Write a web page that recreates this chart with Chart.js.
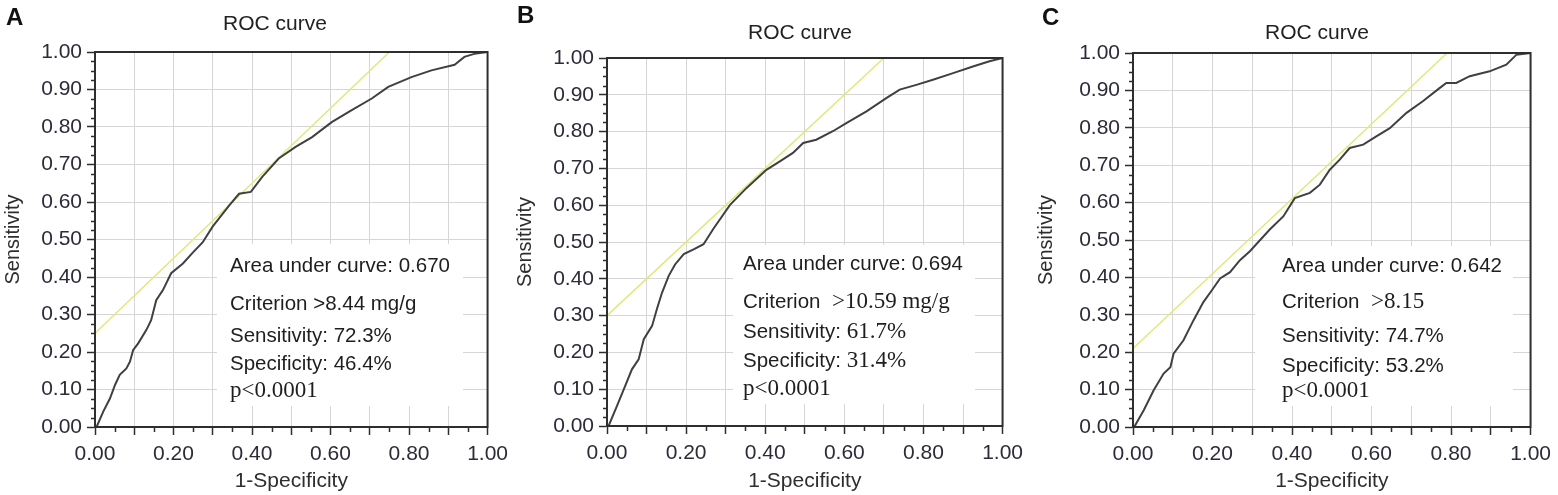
<!DOCTYPE html>
<html>
<head>
<meta charset="utf-8">
<title>ROC curves</title>
<script src="https://cdn.jsdelivr.net/npm/chart.js@4.4.1/dist/chart.umd.min.js"></script>
<style>
  html, body { margin: 0; padding: 0; background: #fff; }
  #wrap { position: relative; width: 1558px; height: 495px; overflow: hidden; }
  .panel { position: absolute; top: 0; height: 495px; }
</style>
</head>
<body>
<div id="wrap">
  <div class="panel" style="left:0;width:515px"><canvas id="chartA"></canvas></div>
  <div class="panel" style="left:515px;width:515px"><canvas id="chartB"></canvas></div>
  <div class="panel" style="left:1030px;width:528px"><canvas id="chartC"></canvas></div>
</div>
<script>
'use strict';

// -------------------- data --------------------
const rocAx = [0, 0.004, 0.021, 0.038, 0.051, 0.063, 0.080, 0.089, 0.097, 0.110, 0.131, 0.143, 0.156, 0.173,
  0.194, 0.224, 0.249, 0.274, 0.300, 0.342, 0.367, 0.397, 0.426, 0.468, 0.511, 0.553, 0.603, 0.654, 0.705,
  0.747, 0.806, 0.857, 0.916, 0.941, 0.966, 1];
const rocAy = [0, 0, 0.041, 0.076, 0.112, 0.139, 0.156, 0.174, 0.205, 0.223, 0.259, 0.285, 0.338, 0.365,
  0.410, 0.436, 0.465, 0.492, 0.535, 0.591, 0.622, 0.627, 0.667, 0.716, 0.747, 0.773, 0.813, 0.845, 0.876,
  0.907, 0.933, 0.951, 0.966, 0.987, 0.995, 1];

const rocBx = [0, 0.004, 0.025, 0.046, 0.063, 0.080, 0.093, 0.114, 0.126, 0.139, 0.156, 0.172, 0.194, 0.219,
  0.244, 0.269, 0.311, 0.353, 0.403, 0.437, 0.470, 0.496, 0.529, 0.571, 0.605, 0.656, 0.706, 0.740, 0.782,
  0.824, 0.875, 0.925, 0.967, 1];
const rocBy = [0, 0, 0.054, 0.109, 0.154, 0.181, 0.236, 0.272, 0.317, 0.362, 0.408, 0.439, 0.467, 0.480,
  0.494, 0.536, 0.601, 0.647, 0.696, 0.719, 0.742, 0.769, 0.778, 0.801, 0.823, 0.855, 0.891, 0.914, 0.927,
  0.941, 0.959, 0.977, 0.991, 1];

const rocCx = [0, 0.003, 0.027, 0.052, 0.077, 0.094, 0.102, 0.127, 0.152, 0.177, 0.198, 0.219, 0.244, 0.269,
  0.294, 0.344, 0.378, 0.407, 0.445, 0.470, 0.495, 0.520, 0.545, 0.579, 0.612, 0.646, 0.688, 0.729, 0.771,
  0.788, 0.813, 0.847, 0.897, 0.939, 0.964, 1];
const rocCy = [0, 0, 0.045, 0.098, 0.143, 0.160, 0.196, 0.232, 0.285, 0.334, 0.365, 0.397, 0.414, 0.446,
  0.470, 0.528, 0.563, 0.612, 0.626, 0.648, 0.688, 0.715, 0.746, 0.755, 0.777, 0.799, 0.840, 0.871, 0.906,
  0.920, 0.920, 0.938, 0.951, 0.969, 0.995, 1];

// yellow tangent line: [x0, y0, x1, y1]
const tangentA = [0, 0.25, 0.75, 1];
const tangentB = [0, 0.30, 0.70, 1];
const tangentC = [0, 0.21, 0.79, 1];

const letters = ['A', 'B', 'C'];
const aucValues = ['0.670', '0.694', '0.642'];
const criterions = ['>8.44 mg/g', '>10.59 mg/g', '>8.15'];
const sensValues = ['72.3%', '61.7%', '74.7%'];
const specValues = ['46.4%', '31.4%', '53.2%'];
const pValue = 'p<0.0001';

// -------------------- style --------------------
const SANS = "'Liberation Sans', Arial, sans-serif";
const SERIF = "'Liberation Serif', 'Times New Roman', serif";
const AXIS_COLOR = '#2e2e2e';
const LABEL_COLOR = '#2f2a38';
const GRID_COLOR = '#d6d6d6';

function toPoints(xs, ys) {
  return xs.map((x, i) => ({x: x, y: ys[i]}));
}

function tangentPoints(t) {
  return [{x: t[0], y: t[1]}, {x: t[2], y: t[3]}];
}

// 枠・副目盛り・パネル内テキスト
const panelPlugin = {
  id: 'panelText',
  beforeDatasetsDraw(chart) {
    const o = chart.options.plugins.panelText;
    const ctx = chart.ctx;
    ctx.save();
    ctx.fillStyle = '#fff';
    ctx.fillRect(o.box[0], o.box[1], o.box[2], o.box[3]);
    ctx.fillStyle = '#1e1e1e';
    ctx.textBaseline = 'alphabetic';
    ctx.textAlign = 'left';
    o.lines.forEach((segs, i) => {
      let x = o.textX;
      segs.forEach(seg => {
        ctx.font = seg[1] === 'serif' ? '23px ' + SERIF : '20.5px ' + SANS;
        ctx.fillText(seg[0], x, o.baselines[i]);
        x += ctx.measureText(seg[0]).width;
      });
    });
    ctx.restore();
  },
  afterDraw(chart) {
    const o = chart.options.plugins.panelText;
    const ctx = chart.ctx;
    const area = chart.chartArea;
    const xs = chart.scales.x;
    const ys = chart.scales.y;
    ctx.save();

    // minor ticks
    ctx.strokeStyle = AXIS_COLOR;
    ctx.lineWidth = 1.5;
    ctx.beginPath();
    for (let i = 0; i <= 40; i++) {
      if (i % 4 === 0) continue;
      const py = Math.round(ys.getPixelForValue(i / 40)) + 0.5;
      ctx.moveTo(area.left - 4, py);
      ctx.lineTo(area.left, py);
    }
    for (let i = 0; i <= 20; i++) {
      if (i % 2 === 0) continue;
      const px = Math.round(xs.getPixelForValue(i / 20)) + 0.5;
      ctx.moveTo(px, area.bottom);
      ctx.lineTo(px, area.bottom + 5);
    }
    ctx.stroke();

    // frame
    ctx.lineWidth = 2;
    ctx.strokeRect(area.left, area.top, area.right - area.left, area.bottom - area.top);

    // letter & title
    ctx.fillStyle = '#111';
    ctx.textAlign = 'left';
    ctx.textBaseline = 'alphabetic';
    ctx.font = 'bold 24px ' + SANS;
    ctx.fillText(o.letter, o.letterPos[0], o.letterPos[1]);
    ctx.fillStyle = '#222';
    ctx.textAlign = 'center';
    ctx.font = '21px ' + SANS;
    ctx.fillText('ROC curve', o.titlePos[0], o.titlePos[1]);
    ctx.restore();
  }
};

function makeChart(id, idx, roc, tangent, lay, text) {
  const ctx = document.getElementById(id).getContext('2d');
  return new Chart(ctx, {
    type: 'scatter',
    data: {
      datasets: [{
        data: roc,
        showLine: true,
        borderColor: '#404040',
        borderWidth: 2,
        pointRadius: 0,
        tension: 0
      }, {
        data: tangent,
        showLine: true,
        borderColor: 'rgb(226, 232, 122)',
        borderWidth: 1.5,
        pointRadius: 0
      }]
    },
    options: {
      responsive: true,
      maintainAspectRatio: false,
      animation: false,
      events: [],
      layout: {
        padding: {top: lay.top, right: lay.right, bottom: 0, left: 0}
      },
      plugins: {
        legend: {display: false},
        tooltip: {enabled: false},
        panelText: {
          letter: letters[idx],
          letterPos: text.letterPos,
          titlePos: text.titlePos,
          box: text.box,
          textX: text.textX,
          baselines: text.baselines,
          lines: text.lines
        }
      },
      scales: {
        x: {
          type: 'linear',
          min: 0,
          max: 1,
          afterFit: s => { s.height = lay.xHeight; },
          ticks: {
            stepSize: 0.1,
            autoSkip: false,
            maxRotation: 0,
            padding: 7,
            color: LABEL_COLOR,
            font: {family: SANS, size: 21},
            callback: v => (Math.round(v * 10) % 2 === 0 ? v.toFixed(2) : '')
          },
          grid: {color: GRID_COLOR, tickColor: AXIS_COLOR, tickLength: 8, tickWidth: 1.5},
          border: {color: AXIS_COLOR, width: 2},
          title: {
            display: true,
            text: '1-Specificity',
            color: AXIS_COLOR,
            font: {family: SANS, size: 21, lineHeight: 1},
            padding: {top: 0, bottom: 3}
          }
        },
        y: {
          type: 'linear',
          min: 0,
          max: 1,
          afterFit: s => { s.width = lay.yWidth; },
          ticks: {
            stepSize: 0.1,
            autoSkip: false,
            padding: 5,
            color: LABEL_COLOR,
            font: {family: SANS, size: 21},
            callback: v => v.toFixed(2)
          },
          grid: {color: GRID_COLOR, tickColor: AXIS_COLOR, tickLength: 8, tickWidth: 1.5},
          border: {color: AXIS_COLOR, width: 2},
          title: {
            display: true,
            text: 'Sensitivity',
            color: AXIS_COLOR,
            font: {family: SANS, size: 20, lineHeight: 1},
            padding: {top: lay.yTitlePad, bottom: 0}
          }
        }
      }
    },
    plugins: [panelPlugin]
  });
}

// -------------------- panels --------------------
makeChart('chartA', 0, toPoints(rocAx, rocAy), tangentPoints(tangentA),
  {top: 52, right: 25, xHeight: 68, yWidth: 95, yTitlePad: 3},
  {
    letterPos: [6, 25],
    titlePos: [275, 30],
    box: [217, 244, 246, 162],
    textX: 230,
    baselines: [272, 310, 342, 370, 397],
    lines: [
      [['Area under curve: ' + aucValues[0], 'sans']],
      [['Criterion ' + criterions[0], 'sans']],
      [['Sensitivity: ' + sensValues[0], 'sans']],
      [['Specificity: ' + specValues[0], 'sans']],
      [[pValue, 'serif']]
    ]
  });

makeChart('chartB', 1, toPoints(rocBx, rocBy), tangentPoints(tangentB),
  {top: 58, right: 27, xHeight: 69, yWidth: 92, yTitlePad: 0},
  {
    letterPos: [2, 23],
    titlePos: [285, 39],
    box: [218, 245, 242, 159],
    textX: 228,
    baselines: [270, 308, 338, 367, 395],
    lines: [
      [['Area under curve: ' + aucValues[1], 'sans']],
      [['Criterion ', 'sans'], [' ' + criterions[1], 'serif']],
      [['Sensitivity: ', 'sans'], [sensValues[1], 'serif']],
      [['Specificity: ', 'sans'], [specValues[1], 'serif']],
      [[pValue, 'serif']]
    ]
  });

makeChart('chartC', 2, toPoints(rocCx, rocCy), tangentPoints(tangentC),
  {top: 53, right: 27, xHeight: 68, yWidth: 103, yTitlePad: 6},
  {
    letterPos: [12, 25],
    titlePos: [287, 39],
    box: [225, 246, 258, 160],
    textX: 252,
    baselines: [272, 308, 342, 372, 397],
    lines: [
      [['Area under curve: ' + aucValues[2], 'sans']],
      [['Criterion ', 'sans'], [' ' + criterions[2], 'serif']],
      [['Sensitivity: ' + sensValues[2], 'sans']],
      [['Specificity: ' + specValues[2], 'sans']],
      [[pValue, 'serif']]
    ]
  });
</script>
</body>
</html>
